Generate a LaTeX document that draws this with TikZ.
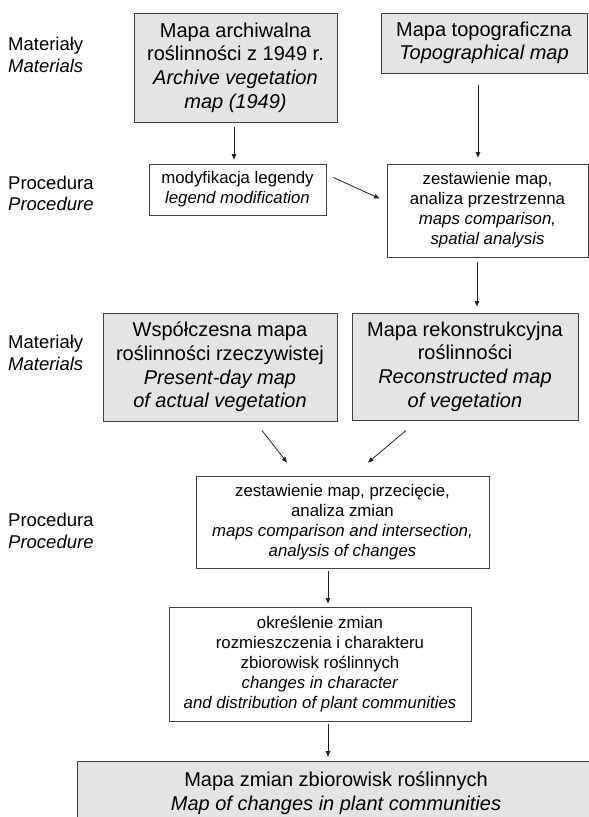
\documentclass[tikz,border=0pt]{standalone}
\usepackage{fontspec}
\setmainfont{Liberation Sans}
\usetikzlibrary{arrows.meta}
\definecolor{boxgray}{HTML}{E4E4E4}
\definecolor{bordercol}{HTML}{404040}
\definecolor{arrcol}{HTML}{202020}
\tikzset{
  bigbox/.style={draw=bordercol, fill=boxgray, line width=0.9pt, inner sep=0pt, align=center,
    font=\fontsize{20}{23.6}\selectfont},
  smallbox/.style={draw=bordercol, fill=white, line width=0.9pt, inner sep=0pt, align=center,
    font=\fontsize{16.8}{20}\selectfont},
  sidelabel/.style={anchor=west, align=left, inner sep=0pt, font=\fontsize{18.5}{21.5}\selectfont},
  arr/.style={draw=arrcol, line width=0.8pt, -{Triangle[length=5.5pt,width=4.5pt]}}
}
\begin{document}
\begin{tikzpicture}[x=1pt,y=-1pt]
\useasboundingbox (0,0) rectangle (589,817);
\clip (0,0) rectangle (589,817);
\fill[white] (0,0) rectangle (589,817);

% side labels
\node[sidelabel] (mat1) at (8,55) {Materiały\\\textit{Materials}};
\node[sidelabel] (proc1) at (8,193.5) {Procedura\\\textit{Procedure}};
\node[sidelabel] (mat2) at (8,353) {Materiały\\\textit{Materials}};
\node[sidelabel] (proc2) at (8,531) {Procedura\\\textit{Procedure}};

% boxes
\node[bigbox, minimum width=203, minimum height=109] (arch) at (235.5,67.5)
  {Mapa archiwalna\\roślinności z 1949 r.\\\textit{Archive vegetation}\\\textit{map (1949)}};
\node[bigbox, minimum width=206, minimum height=60] (topo) at (484,43)
  {Mapa topograficzna\\\textit{Topographical map}};
\node[smallbox, minimum width=177, minimum height=51] (mod) at (237.5,189.5)
  {modyfikacja legendy\\\textit{legend modification}};
\node[smallbox, minimum width=201, minimum height=93] (zest1) at (487.5,210.5)
  {zestawienie map,\\analiza przestrzenna\\\textit{maps comparison,}\\\textit{spatial analysis}};
\node[bigbox, minimum width=234, minimum height=108] (pres) at (220,367)
  {Współczesna mapa\\roślinności rzeczywistej\\\textit{Present-day map}\\\textit{of actual vegetation}};
\node[bigbox, minimum width=226, minimum height=107] (recon) at (465,366.5)
  {Mapa rekonstrukcyjna\\roślinności\\\textit{Reconstructed map}\\\textit{of vegetation}};
\node[smallbox, minimum width=293, minimum height=92] (zest2) at (342.5,522)
  {zestawienie map, przecięcie,\\analiza zmian\\\textit{maps comparison and intersection,}\\\textit{analysis of changes}};
\node[smallbox, minimum width=302, minimum height=114] (okr) at (320,664)
  {określenie zmian\\rozmieszczenia i charakteru\\zbiorowisk roślinnych\\\textit{changes in character}\\\textit{and distribution of plant communities}};
\node[bigbox, minimum width=518, minimum height=68] (final) at (336,795)
  {};
\node[inner sep=0pt, align=center, font=\fontsize{20}{23.6}\selectfont] (finaltext) at (336,793)
  {Mapa zmian zbiorowisk roślinnych\\\textit{Map of changes in plant communities}};

% connectors
\draw[arr, shorten <=5pt, shorten >=4pt] ([xshift=-1.5pt]arch.south) -- ([xshift=-1.5pt]arch.south |- mod.north);
\draw[arr, shorten <=12pt, shorten >=6pt] ([xshift=-6pt]topo.south) -- ([xshift=-6pt]topo.south |- zest1.north);
\draw[arr] ([xshift=7pt,yshift=12pt]mod.east) -- ([xshift=-7pt,yshift=12pt]zest1.west);
\draw[arr, shorten <=5pt, shorten >=6pt] ([xshift=-10.5pt]zest1.south) -- ([xshift=-10.5pt]zest1.south |- recon.north);
\draw[arr] ([xshift=42pt,yshift=-9pt]pres.south) -- ([xshift=-55.5pt,yshift=13pt]zest2.north);
\draw[arr] ([xshift=-59pt,yshift=-10pt]recon.south) -- ([xshift=25.5pt,yshift=13pt]zest2.north);
\draw[arr, shorten <=3pt, shorten >=3pt] ([xshift=-14.5pt]zest2.south) -- ([xshift=-14.5pt]zest2.south |- okr.north);
\draw[arr, shorten <=3pt, shorten >=4pt] ([xshift=8pt]okr.south) -- ([xshift=8pt]okr.south |- final.north);
\end{tikzpicture}
\end{document}
